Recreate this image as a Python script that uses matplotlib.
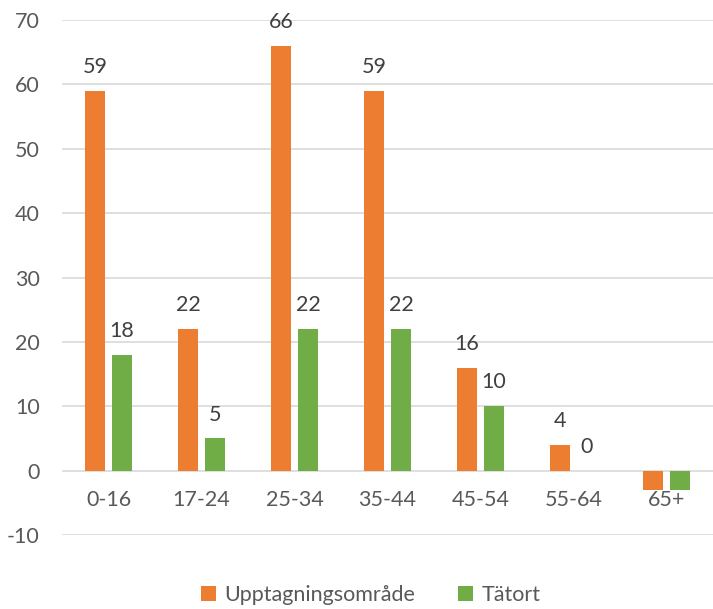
import matplotlib
matplotlib.use("Agg")
import matplotlib.pyplot as plt
import numpy as np

categories = ["0-16", "17-24", "25-34", "35-44", "45-54", "55-64", "65+"]
upptagning = [59, 22, 66, 59, 16, 4, -3]
tatort = [18, 5, 22, 22, 10, 0, -3]
series_names = ["Upptagningsområde", "Tätort"]
yticks = [-10, 0, 10, 20, 30, 40, 50, 60, 70]

plt.rcParams['font.family'] = ['Lato', 'DejaVu Sans']
txt = '#595959'
fs = 15.5

fig = plt.figure(figsize=(7.13, 6.09), dpi=100)
ax = fig.add_axes([0.087, 0.1215, 0.913, 0.8455])

x = np.arange(len(categories))
w = 0.22
off = 0.145
b1 = ax.bar(x - off, upptagning, w, color='#ED7D31', label=series_names[0], zorder=3)
b2 = ax.bar(x + off, tatort, w, color='#70AD47', label=series_names[1], zorder=3)

for bars, vals in ((b1, upptagning), (b2, tatort)):
    for rect, v in zip(bars, vals):
        if v >= 0:
            ax.annotate(str(v), (rect.get_x() + rect.get_width() / 2, v),
                        xytext=(0, 10), textcoords='offset points',
                        ha='center', va='bottom', fontsize=fs, color='#404040')

ax.set_ylim(-10, 70)
ax.set_xlim(-0.5, len(categories) - 0.5)
ax.set_yticks(yticks)
ax.set_yticklabels([str(t) for t in yticks])
ax.yaxis.grid(True, color='#D9D9D9', linewidth=1.2, zorder=0)
ax.set_axisbelow(True)
for s in ax.spines.values():
    s.set_visible(False)
ax.tick_params(axis='both', length=0, labelsize=fs, colors=txt)
ax.tick_params(axis='y', pad=16)

ax.set_xticks([])
for xi, c in zip(x, categories):
    ax.annotate(c, (xi, 0), xytext=(0, -14), textcoords='offset points',
                ha='center', va='top', fontsize=fs, color=txt)

leg = fig.legend(handles=[b1, b2], labels=series_names, loc='lower center',
                 bbox_to_anchor=(0.52, -0.025), ncol=2, frameon=False,
                 fontsize=fs, handlelength=0.7, handleheight=0.7,
                 columnspacing=2.0, handletextpad=0.4)
for t in leg.get_texts():
    t.set_color(txt)

fig.savefig('out.png', dpi=100)
